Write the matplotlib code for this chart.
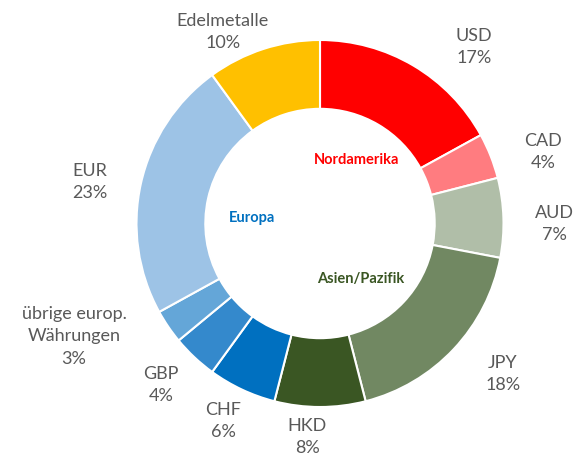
import matplotlib.pyplot as plt

labels = ['USD', 'CAD', 'AUD', 'JPY', 'HKD', 'CHF', 'GBP',
          'übrige europ.\nWährungen', 'EUR', 'Edelmetalle']
values = [17, 4, 7, 18, 8, 6, 4, 3, 23, 10]
colors = ['#FF0000', '#FF7C80', '#B0BEA8', '#718862', '#3A5623',
          '#0070C0', '#3489CC', '#64A6D8', '#9DC3E6', '#FFC000']

regions = ['Nordamerika', 'Europa', 'Asien/Pazifik']
region_colors = ['#FF0000', '#0070C0', '#3A5623']

# label centres in pixel coords (figure is 573x457, y downwards)
label_pos = [(474, 47), (543, 152), (554, 224), (503, 374), (307, 437),
             (223, 421), (161, 385), (74, 336), (90, 182), (223, 32)]
region_pos = [(357, 160), (252, 218), (361, 279)]

plt.rcParams['font.family'] = ['Lato', 'DejaVu Sans']

fig = plt.figure(figsize=(5.73, 4.57), dpi=100)
ax = fig.add_axes([0, 0, 1, 1])
ax.set_xlim(0, 573)
ax.set_ylim(457, 0)
ax.set_aspect('equal')
ax.axis('off')

# y is inverted, so counterclock in data = clockwise on screen
ax.pie(values, colors=colors, center=(320, 223.5), radius=183.5,
       startangle=-90, counterclock=True,
       wedgeprops=dict(width=183.5 * 0.375, edgecolor='white', linewidth=1.5))
ax.set_xlim(0, 573)
ax.set_ylim(457, 0)

for lab, v, (x, y) in zip(labels, values, label_pos):
    ax.text(x, y, f'{lab}\n{v}%', ha='center', va='center', fontsize=13,
            color='#595959', linespacing=1.5)

for r, c, (x, y) in zip(regions, region_colors, region_pos):
    ax.text(x, y, r, ha='center', va='center', fontsize=10.5,
            fontweight='bold', color=c)

fig.savefig('out.png', dpi=100)
